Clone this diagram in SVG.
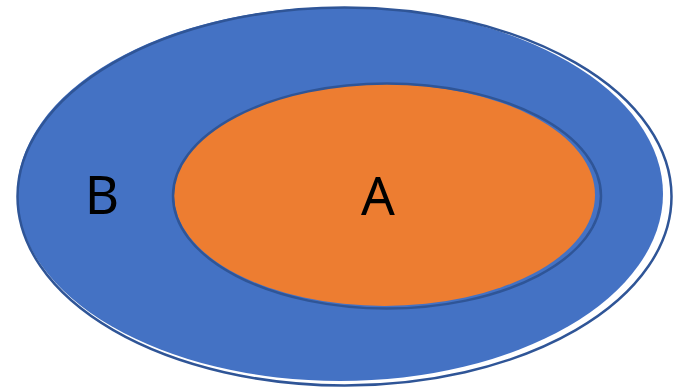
<svg xmlns="http://www.w3.org/2000/svg" width="674" height="389" viewBox="0 0 674 389">
<style>
.lbl{font-family:"Noto Sans","Open Sans","Liberation Sans",sans-serif;font-size:53px;fill:#000}
.ol{fill:none;stroke:#2F5597;stroke-width:2.5}
</style>
<rect width="674" height="389" fill="#fff"/>
<g id="B">
<ellipse cx="340" cy="194" rx="323" ry="187" fill="#4472C4"/>
<ellipse class="ol" cx="344.5" cy="196.5" rx="327" ry="189"/>
<text class="lbl" x="102" y="214" text-anchor="middle">B</text>
</g>
<g id="A">
<ellipse cx="384.5" cy="195" rx="210.5" ry="111" fill="#ED7D31"/>
<ellipse class="ol" cx="387" cy="196" rx="214" ry="112.5"/>
<text class="lbl" x="378" y="215" text-anchor="middle">A</text>
</g>
<g id="connectors"/>
</svg>
